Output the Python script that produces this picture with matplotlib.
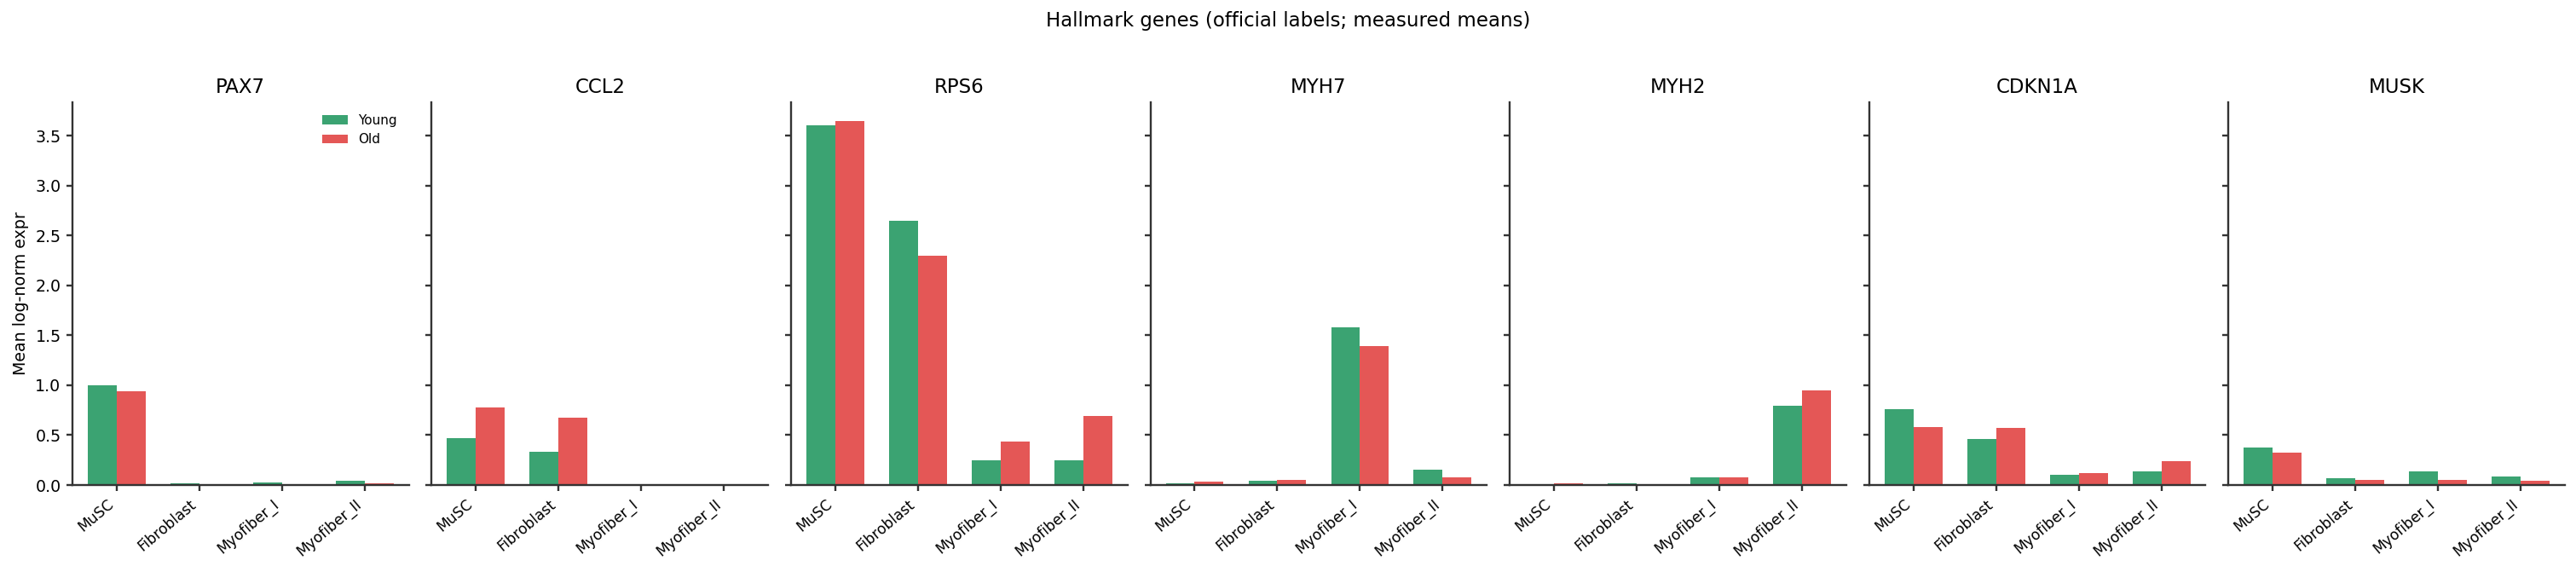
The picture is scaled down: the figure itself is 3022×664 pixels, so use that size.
import numpy as np
import matplotlib
matplotlib.use("Agg")
import matplotlib.pyplot as plt

genes = ["PAX7", "CCL2", "RPS6", "MYH7", "MYH2", "CDKN1A", "MUSK"]
cell_types = ["MuSC", "Fibroblast", "Myofiber_I", "Myofiber_II"]

# mean log-norm expression (one row per gene)
young = [
    [1.00, 0.016, 0.030, 0.040],   # PAX7
    [0.469, 0.332, 0.003, 0.003],  # CCL2
    [3.60, 2.645, 0.249, 0.249],   # RPS6
    [0.016, 0.041, 1.583, 0.153],  # MYH7
    [0.002, 0.016, 0.077, 0.795],  # MYH2
    [0.763, 0.463, 0.102, 0.137],  # CDKN1A
    [0.377, 0.067, 0.137, 0.086],  # MUSK
]
old = [
    [0.94, 0.005, 0.003, 0.015],
    [0.779, 0.676, 0.003, 0.003],
    [3.65, 2.294, 0.437, 0.692],
    [0.032, 0.051, 1.388, 0.077],
    [0.016, 0.002, 0.077, 0.951],
    [0.581, 0.574, 0.118, 0.239],
    [0.325, 0.051, 0.051, 0.041],
]

young_color = "#3ba372"
old_color = "#e45756"
ink = "#333333"

plt.rcParams["font.family"] = ["DejaVu Sans"]
plt.rcParams["axes.edgecolor"] = ink
plt.rcParams["axes.linewidth"] = 1.25
plt.rcParams["xtick.color"] = ink
plt.rcParams["ytick.color"] = ink
plt.rcParams["xtick.major.width"] = 1.25
plt.rcParams["ytick.major.width"] = 1.25
plt.rcParams["xtick.labelcolor"] = "black"
plt.rcParams["ytick.labelcolor"] = "black"

dpi = 137
fig, axes = plt.subplots(1, len(genes), figsize=(3022 / dpi, 664 / dpi), dpi=dpi, sharey=True)
fig.subplots_adjust(left=0.0281, right=0.9957, bottom=0.143, top=0.819, wspace=0.068)

x = np.arange(len(cell_types))
w = 0.35
for i, ax in enumerate(axes):
    ax.bar(x - w / 2, young[i], width=w, color=young_color, label="Young")
    ax.bar(x + w / 2, old[i], width=w, color=old_color, label="Old")
    ax.set_title(genes[i], fontsize=12)
    ax.set_xticks(x)
    ax.set_xticklabels(cell_types, rotation=40, ha="right", fontsize=9)
    ax.spines["top"].set_visible(False)
    ax.spines["right"].set_visible(False)
    ax.tick_params(axis="y", labelsize=10)

axes[0].set_ylabel("Mean log-norm expr", fontsize=10)
axes[0].legend(frameon=False, fontsize=8, loc="upper right")
fig.suptitle("Hallmark genes (official labels; measured means)", fontsize=12, y=0.98)

fig.savefig("out.png", dpi=dpi)
